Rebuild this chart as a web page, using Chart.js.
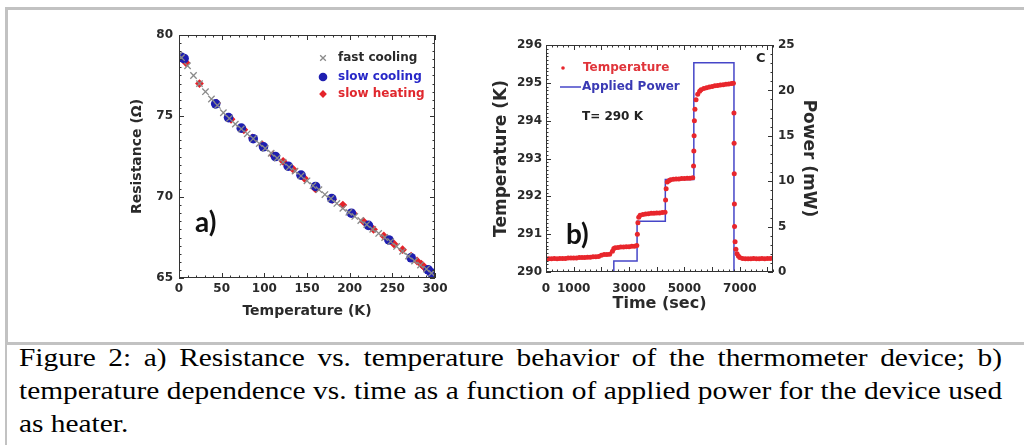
<!DOCTYPE html>
<html>
<head>
<meta charset="utf-8">
<script src="https://cdn.jsdelivr.net/npm/chart.js@4.4.1/dist/chart.umd.min.js"></script>
<style>
  html, body { margin: 0; padding: 0; background: #fff; }
  body { width: 1024px; height: 445px; position: relative; overflow: hidden; }
  .topbox { position: absolute; left: 5px; top: 7px; width: 1030px; height: 333px;
            border-left: 3px solid #c2c2c2; border-top: 3px solid #c2c2c2; }
  .capbox { position: absolute; left: 5px; top: 342px; width: 1030px; height: 110px;
            border-left: 2px solid #c2c2c2; border-top: 3px solid #c2c2c2; }
  .caption { position: absolute; left: 19px; top: 341px; width: 870px;
             font-family: "Liberation Serif", "Times New Roman", serif; font-size: 26px;
             line-height: 33px; color: #000; transform: scaleX(1.13); transform-origin: 0 0; }
  .caption div { white-space: nowrap; }
  .caption .j { text-align: justify; text-align-last: justify; }
  #wrapA { position: absolute; left: 110px; top: 20px; width: 350px; height: 310px; }
  #wrapB { position: absolute; left: 480px; top: 20px; width: 350px; height: 310px; }
</style>
</head>
<body>
<div class="topbox"></div>
<div class="capbox"></div>
<div id="wrapA"><canvas id="chartA" width="350" height="310"></canvas></div>
<div id="wrapB"><canvas id="chartB" width="350" height="310"></canvas></div>
<div class="caption">
  <div class="j">Figure 2: a) Resistance vs. temperature behavior of the thermometer device; b)</div>
  <div class="j">temperature dependence vs. time as a function of applied power for the device used</div>
  <div>as heater.</div>
</div>
<script>
// ---- a) resistance vs temperature ----
const fastT = [0, 3, 10, 17, 24, 31, 38, 45, 52, 59, 66, 73, 80, 87, 94, 101, 108, 115, 122, 129,
  136, 143, 150, 157, 164, 171, 178, 185, 192, 199, 206, 213, 220, 227, 234, 241, 248, 255, 262,
  269, 276, 283, 290, 296];
const fastR = [78.75, 78.6, 78.1, 77.5, 77.0, 76.5, 76.05, 75.65, 75.2, 74.85, 74.5, 74.2, 73.9,
  73.6, 73.3, 73.0, 72.7, 72.4, 72.15, 71.85, 71.6, 71.3, 71.0, 70.7, 70.45, 70.15, 69.9, 69.6,
  69.3, 69.05, 68.8, 68.55, 68.3, 68.0, 67.75, 67.5, 67.25, 66.95, 66.65, 66.35, 66.05, 65.8,
  65.55, 65.3];
const coolT = [3, 6, 43, 58, 73, 87, 99, 113, 128, 143, 160, 179, 202, 222, 246, 272, 292, 296];
const coolR = [78.62, 78.55, 75.75, 74.9, 74.25, 73.6, 73.1, 72.5, 71.9, 71.35, 70.65, 69.9,
  69.0, 68.25, 67.35, 66.25, 65.5, 65.3];
const heatT = [5, 8, 24, 44, 61, 76, 86, 98, 110, 122, 134, 147, 160, 180, 192, 204, 216, 228,
  240, 252, 262, 272, 279, 284, 287, 289, 291, 293, 295, 297];
const heatR = [78.5, 78.3, 77.0, 75.8, 74.8, 74.15, 73.65, 73.2, 72.6, 72.2, 71.7, 71.15, 70.5,
  69.85, 69.5, 69.0, 68.5, 68.0, 67.6, 67.1, 66.75, 66.35, 66.05, 65.85, 65.7, 65.6, 65.5,
  65.45, 65.35, 65.3];

// ---- b) temperature and applied power vs time ----
const timeS = [0, 100, 200, 300, 400, 500, 600, 700, 800, 900, 1000, 1100, 1200, 1300, 1400,
  1500, 1600, 1700, 1800, 1900, 2000, 2100, 2200, 2300, 2400, 2450, 2500, 2600, 2700, 2800,
  2900, 3000, 3100, 3200, 3280, 3300, 3320, 3350, 3400, 3500, 3600, 3700, 3800, 3900, 4000,
  4100, 4200, 4300, 4320, 4340, 4380, 4450, 4500, 4600, 4700, 4800, 4900, 5000, 5100, 5200,
  5300, 5330, 5340, 5350, 5360, 5380, 5420, 5480, 5550, 5600, 5700, 5800, 5900, 6000, 6100,
  6200, 6300, 6400, 6500, 6600, 6700, 6770, 6790, 6795, 6800, 6805, 6810, 6830, 6860, 6900,
  6950, 7000, 7100, 7200, 7300, 7400, 7500, 7600, 7700, 7800, 7900, 8000, 8100, 8200];
const tempK = [290.35, 290.35, 290.35, 290.36, 290.35, 290.36, 290.36, 290.36, 290.37, 290.37,
  290.37, 290.37, 290.38, 290.38, 290.38, 290.39, 290.39, 290.40, 290.40, 290.41, 290.44,
  290.46, 290.46, 290.47, 290.55, 290.62, 290.64, 290.65, 290.66, 290.66, 290.67, 290.67,
  290.68, 290.68, 290.70, 291.0, 291.3, 291.45, 291.50, 291.52, 291.53, 291.54, 291.55,
  291.55, 291.56, 291.56, 291.57, 291.58, 291.9, 292.2, 292.38, 292.42, 292.44, 292.45,
  292.46, 292.46, 292.47, 292.47, 292.48, 292.48, 292.49, 292.8, 293.2, 293.6, 294.0, 294.3,
  294.55, 294.7, 294.78, 294.82, 294.85, 294.87, 294.89, 294.90, 294.92, 294.93, 294.94,
  294.95, 294.96, 294.97, 294.98, 294.99, 294.2, 293.4, 292.6, 291.8, 291.2, 290.8, 290.6,
  290.48, 290.42, 290.38, 290.36, 290.35, 290.35, 290.35, 290.36, 290.35, 290.35, 290.36,
  290.35, 290.36, 290.36, 290.37];
const powerTime = [2000, 2450, 2450, 3290, 3290, 4310, 4310, 5340, 5340, 6790, 6790, 8200];
const powerMW = [0, 0, 1.2, 1.2, 5.6, 5.6, 10.2, 10.2, 23.05, 23.05, 0, 0];
const timeTicks = [0, 1000, 3000, 5000, 7000];

const pts = (xs, ys) => xs.map((x, i) => ({ x: x, y: ys[i] }));

Chart.defaults.font.family = '"DejaVu Sans", sans-serif';
Chart.defaults.font.weight = 'bold';
Chart.defaults.color = '#2a2a2a';

// frame + inward tick marks, positioned through the chart's own scales
function drawTicks(chart, list) {
  const ctx = chart.ctx, a = chart.chartArea;
  ctx.save();
  ctx.strokeStyle = '#333';
  ctx.lineWidth = 1;
  ctx.strokeRect(a.left + 0.5, a.top + 0.5, a.right - a.left - 1, a.bottom - a.top - 1);
  list.forEach(t => {
    const sc = chart.scales[t.id];
    const n = Math.round((t.max - t.min) / t.step);
    for (let i = 0; i <= n; i++) {
      const v = t.min + i * t.step;
      const p = Math.round(sc.getPixelForValue(v)) + 0.5;
      t.sides.forEach(s => {
        ctx.beginPath();
        if (s === 'bottom') { ctx.moveTo(p, a.bottom); ctx.lineTo(p, a.bottom - t.len); }
        if (s === 'top') { ctx.moveTo(p, a.top); ctx.lineTo(p, a.top + t.len); }
        if (s === 'left') { ctx.moveTo(a.left, p); ctx.lineTo(a.left + t.len, p); }
        if (s === 'right') { ctx.moveTo(a.right, p); ctx.lineTo(a.right - t.len, p); }
        ctx.stroke();
      });
    }
  });
  ctx.restore();
}

const noGrid = { display: false, drawTicks: false };

// Chart a)
new Chart(document.getElementById('chartA'), {
  type: 'scatter',
  data: {
    datasets: [{
      label: 'fast cooling',
      data: pts(fastT, fastR),
      pointStyle: 'crossRot',
      pointRadius: 4.5,
      borderColor: '#8a8a8a',
      borderWidth: 1.3
    }, {
      label: 'slow cooling',
      data: pts(coolT, coolR),
      pointStyle: 'circle',
      pointRadius: 4.8,
      backgroundColor: '#1e1eb0',
      borderColor: '#1e1eb0',
      borderWidth: 0
    }, {
      label: 'slow heating',
      data: pts(heatT, heatR),
      pointStyle: 'rectRot',
      pointRadius: 4.4,
      backgroundColor: '#e4232a',
      borderColor: '#e4232a',
      borderWidth: 0
    }]
  },
  options: {
    responsive: false,
    animation: false,
    layout: { padding: { left: 0, top: 15, right: 25, bottom: 0 } },
    plugins: { legend: { display: false }, tooltip: { enabled: false } },
    scales: {
      x: {
        min: 0, max: 300,
        grid: noGrid, border: { display: false },
        ticks: { stepSize: 50, padding: 4, font: { size: 12 }, maxRotation: 0 },
        title: { display: true, text: 'Temperature (K)', font: { size: 14 }, padding: { top: 10, bottom: 10 } },
        afterFit: s => { s.height = 52; }
      },
      y: {
        min: 65, max: 80,
        grid: noGrid, border: { display: false },
        ticks: { stepSize: 5, padding: 6, font: { size: 12 } },
        title: { display: true, text: 'Resistance (Ω)', font: { size: 14 }, padding: { top: 19, bottom: 19 } },
        afterFit: s => { s.width = 69; }
      }
    }
  },
  plugins: [{
    id: 'decorA',
    afterDatasetsDraw(chart) {
      drawTicks(chart, [
        { id: 'x', min: 0, max: 300, step: 50, len: 5, sides: ['bottom', 'top'] },
        { id: 'x', min: 0, max: 300, step: 10, len: 2.5, sides: ['bottom', 'top'] },
        { id: 'y', min: 65, max: 80, step: 5, len: 5, sides: ['left', 'right'] },
        { id: 'y', min: 65, max: 80, step: 0.5, len: 2.5, sides: ['left', 'right'] }
      ]);
      const ctx = chart.ctx;
      ctx.save();
      ctx.textBaseline = 'middle';
      ctx.font = 'bold 12px "DejaVu Sans"';
      const rows = [
        { text: 'fast cooling', color: '#2a2a2a', y: 38 },
        { text: 'slow cooling', color: '#2828c8', y: 57 },
        { text: 'slow heating', color: '#e0282e', y: 74 }
      ];
      rows.forEach((r, i) => {
        const ds = chart.data.datasets[i];
        ctx.fillStyle = ds.backgroundColor || ds.borderColor;
        ctx.strokeStyle = ds.borderColor;
        ctx.lineWidth = ds.borderWidth || 1;
        Chart.helpers.drawPoint(ctx, {
          pointStyle: ds.pointStyle, radius: ds.pointRadius - 0.5, rotation: 0,
          borderWidth: ds.borderWidth
        }, 213, r.y);
        ctx.fillStyle = r.color;
        ctx.fillText(r.text, 228, r.y);
      });
      ctx.fillStyle = '#111';
      ctx.font = 'bold 28px Lato, "Open Sans", sans-serif';
      ctx.fillText('a)', 85, 203);
      ctx.restore();
    }
  }]
});

// Chart b)
new Chart(document.getElementById('chartB'), {
  type: 'scatter',
  data: {
    datasets: [{
      label: 'Temperature',
      data: pts(timeS, tempK),
      yAxisID: 'y',
      pointStyle: 'circle',
      pointRadius: 2.5,
      backgroundColor: '#e8262c',
      borderColor: '#e8262c',
      borderWidth: 0
    }, {
      label: 'Applied Power',
      data: pts(powerTime, powerMW),
      yAxisID: 'y2',
      showLine: true,
      pointRadius: 0,
      borderColor: '#4646c8',
      borderWidth: 1.5
    }]
  },
  options: {
    responsive: false,
    animation: false,
    layout: { padding: { left: 0, top: 25, right: 0, bottom: 0 } },
    plugins: { legend: { display: false }, tooltip: { enabled: false } },
    scales: {
      x: {
        min: 0, max: 8200,
        grid: noGrid, border: { display: false },
        afterBuildTicks: s => { s.ticks = timeTicks.map(v => ({ value: v })); },
        ticks: { padding: 10, font: { size: 12 }, maxRotation: 0, autoSkip: false,
                 callback: v => String(v) },
        title: { display: true, text: 'Time (sec)', font: { size: 16 }, padding: { top: 17, bottom: 17 } },
        afterFit: s => { s.height = 58; }
      },
      y: {
        position: 'left',
        min: 290, max: 296,
        grid: noGrid, border: { display: false },
        ticks: { stepSize: 1, padding: 4, font: { size: 12 } },
        title: { display: true, text: 'Temperature (K)', font: { size: 17 }, padding: { top: 11, bottom: 11 } },
        afterFit: s => { s.width = 66; }
      },
      y2: {
        position: 'right',
        min: 0, max: 25,
        grid: noGrid, border: { display: false },
        ticks: { stepSize: 5, padding: 5, font: { size: 12 } },
        title: { display: true, text: 'Power (mW)', font: { size: 17 }, padding: { top: 11, bottom: 11 } },
        afterFit: s => { s.width = 57; }
      }
    }
  },
  plugins: [{
    id: 'decorB',
    afterDatasetsDraw(chart) {
      drawTicks(chart, [
        { id: 'x', min: 0, max: 8000, step: 1000, len: 5, sides: ['bottom', 'top'] },
        { id: 'x', min: 0, max: 8200, step: 200, len: 2.5, sides: ['bottom', 'top'] },
        { id: 'y', min: 290, max: 296, step: 1, len: 5, sides: ['left'] },
        { id: 'y', min: 290, max: 296, step: 0.1, len: 2.5, sides: ['left'] },
        { id: 'y2', min: 0, max: 25, step: 5, len: 5, sides: ['right'] },
        { id: 'y2', min: 0, max: 25, step: 1, len: 2.5, sides: ['right'] }
      ]);
      const ctx = chart.ctx;
      ctx.save();
      ctx.textBaseline = 'middle';
      ctx.font = 'bold 12px "DejaVu Sans"';
      ctx.fillStyle = '#e8262c';
      ctx.beginPath();
      ctx.arc(83, 48, 1.8, 0, Math.PI * 2);
      ctx.fill();
      ctx.fillStyle = '#e0343a';
      ctx.fillText('Temperature', 103, 48);
      ctx.strokeStyle = '#4646c8';
      ctx.lineWidth = 1.5;
      ctx.beginPath();
      ctx.moveTo(80, 67);
      ctx.lineTo(101, 67);
      ctx.stroke();
      ctx.fillStyle = '#3a3ab4';
      ctx.fillText('Applied Power', 102, 67);
      ctx.fillStyle = '#222';
      ctx.fillText('T= 290 K', 102, 97);
      ctx.font = 'bold 13px "DejaVu Sans"';
      ctx.fillText('C', 276, 39);
      ctx.font = 'bold 28px Lato, "Open Sans", sans-serif';
      ctx.fillStyle = '#111';
      ctx.fillText('b)', 86, 215);
      ctx.restore();
    }
  }]
});
</script>
</body>
</html>
